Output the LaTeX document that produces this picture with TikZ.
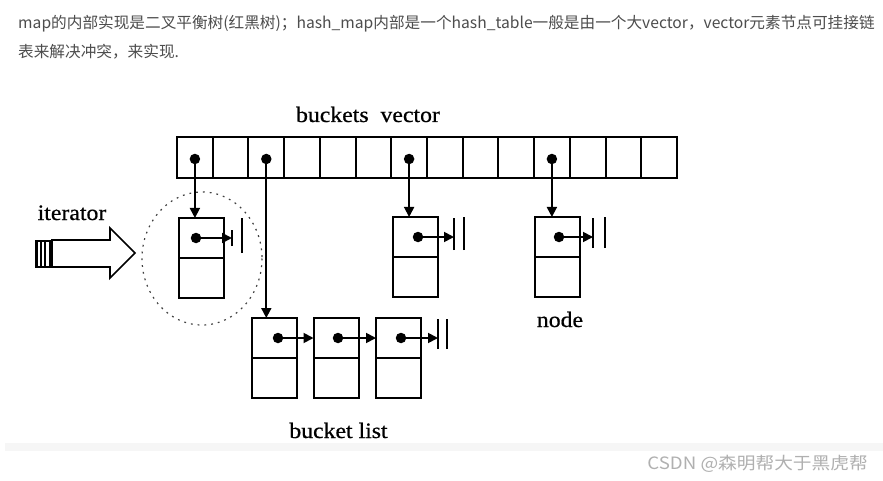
\documentclass[tikz,border=0pt]{standalone}
\usepackage{fontspec}
\setmainfont{Liberation Serif}
\newfontfamily\cjk{Noto Sans CJK SC}
\newfontfamily\cjkw[FakeStretch=1.1]{Noto Sans CJK SC}
\newfontfamily\scan[FakeStretch=1.08,FakeBold=0.6]{Liberation Serif}
\usetikzlibrary{arrows.meta}
\definecolor{txt}{HTML}{4D4D4D}
\definecolor{wm}{HTML}{B0B0B0}
\definecolor{band}{HTML}{F6F6F6}
\begin{document}
\begin{tikzpicture}[x=1pt,y=-1pt,
 cell/.style={draw, line width=2pt, minimum width=35.714pt, minimum height=41pt, inner sep=0pt, outer sep=0pt},
 half/.style={draw, line width=2pt, minimum width=45pt, minimum height=40pt, inner sep=0pt, outer sep=0pt},
 dot/.style={circle, fill=black, minimum size=10.5pt, inner sep=0pt, outer sep=0pt},
 arr/.style={line width=1.8pt, -{Triangle[length=10pt,width=10pt]}},
 bar/.style={line width=2.2pt},
 lbl/.style={font=\scan\fontsize{22}{26}\selectfont, inner sep=0pt, anchor=base},
 toptext/.style={anchor=west, text=txt, font=\cjk\fontsize{15.65}{18}\selectfont, inner sep=0pt},
]
\useasboundingbox[fill=white] (0,0) rectangle (883,481);
% top paragraph
\node[toptext] (t1) at (18,24) {map的内部实现是二叉平衡树(红黑树)；hash\_map内部是一个hash\_table一般是由一个大vector，vector元素节点可挂接链};
\node[toptext] (t2) at (18,52) {表来解决冲突，来实现.};
% bottom band and watermark
\fill[band] (5,443) rectangle (883,451);
\node[anchor=east, text=wm, font=\cjkw\fontsize{17}{20}\selectfont, inner sep=0pt] (wmk) at (868,464) {CSDN @森明帮大于黑虎帮};

% buckets vector
\node[lbl] (lv) at (368,122) {buckets\ \ vector};
\foreach \i in {0,...,13}
  \node[cell] (v\i) at ({177+35.714*(\i+0.5)},157.5) {};
\node[dot] (vd0) at (194.9,159) {};
\node[dot] (vd2) at (266.3,159) {};
\node[dot] (vd6) at (409.1,159) {};
\node[dot] (vd10) at (551.9,159) {};

% node 1 (iterator target)
\node[half] (n1t) at (201.5,238) {};
\node[half] (n1b) at (201.5,278) {};
\node[dot] (n1d) at (196,238) {};
\coordinate (n1e) at (232,238);
% node D
\node[half] (nDt) at (415,237) {};
\node[half] (nDb) at (415,277) {};
\node[dot] (nDd) at (418,237) {};
\coordinate (nDe) at (454,237);
% node E
\node[half] (nEt) at (557,237) {};
\node[half] (nEb) at (557,277) {};
\node[dot] (nEd) at (559,237) {};
\coordinate (nEe) at (593,237);
\node[lbl] (lnode) at (560,327) {node};
% bucket list
\node[half] (nAt) at (274.5,338) {};
\node[half] (nAb) at (274.5,378) {};
\node[dot] (nAd) at (278,338) {};
\node[half] (nBt) at (336,338) {};
\node[half] (nBb) at (336,378) {};
\node[dot] (nBd) at (338,338) {};
\node[half] (nCt) at (398.5,338) {};
\node[half] (nCb) at (398.5,378) {};
\node[dot] (nCd) at (401,338) {};
\coordinate (nCe) at (438,338);
\node[lbl] (lbl) at (338.5,438) {bucket list};

% vector pointers
\draw[arr] (vd0) -- (vd0 |- n1t.north);
\draw[arr] (vd2) -- (vd2 |- nAt.north);
\draw[arr] (vd6) -- (vd6 |- nDt.north);
\draw[arr] (vd10) -- (vd10 |- nEt.north);
% list links
\draw[arr] (nAd) -- (nAd -| nBt.west);
\draw[arr] (nBd) -- (nBd -| nCt.west);
% null ends
\draw[arr] (n1d) -- (n1e);
\draw[bar] ([yshift=-8pt]n1e) -- ([yshift=8pt]n1e);
\draw[bar] ([xshift=10pt,yshift=-15pt]n1e) -- ([xshift=10pt,yshift=20pt]n1e);
\draw[arr] (nDd) -- (nDe);
\draw[bar] ([yshift=-13pt]nDe) -- ([yshift=19pt]nDe);
\draw[bar] ([xshift=10pt,yshift=-13pt]nDe) -- ([xshift=10pt,yshift=20pt]nDe);
\draw[arr] (nEd) -- (nEe);
\draw[bar] ([yshift=-11pt]nEe) -- ([yshift=19pt]nEe);
\draw[bar] ([xshift=12pt,yshift=-11pt]nEe) -- ([xshift=12pt,yshift=20pt]nEe);
\draw[arr] (nCd) -- (nCe);
\draw[bar] ([yshift=-11pt]nCe) -- ([yshift=19pt]nCe);
\draw[bar] ([xshift=9pt,yshift=-11pt]nCe) -- ([xshift=9pt,yshift=19pt]nCe);

% dashed circle around node 1
\draw[dash pattern=on 1.8pt off 5pt, line width=1.2pt, black!75] (202,258.5) ellipse [x radius=60, y radius=66.5];

% iterator
\node[lbl] (lit) at (72,220) {iterator};
\draw[line width=1.7pt, fill=white] (52,240) -- (110,240) -- (110,228) -- (135,253) -- (110,278) -- (110,267) -- (52,267) -- cycle;
\draw[line width=1.4pt] (36,241) rectangle (52,267);
\foreach \xx in {37.5,41,45,50}
  \draw[line width=1.9pt] (\xx,241) -- (\xx,267);
\end{tikzpicture}
\end{document}
